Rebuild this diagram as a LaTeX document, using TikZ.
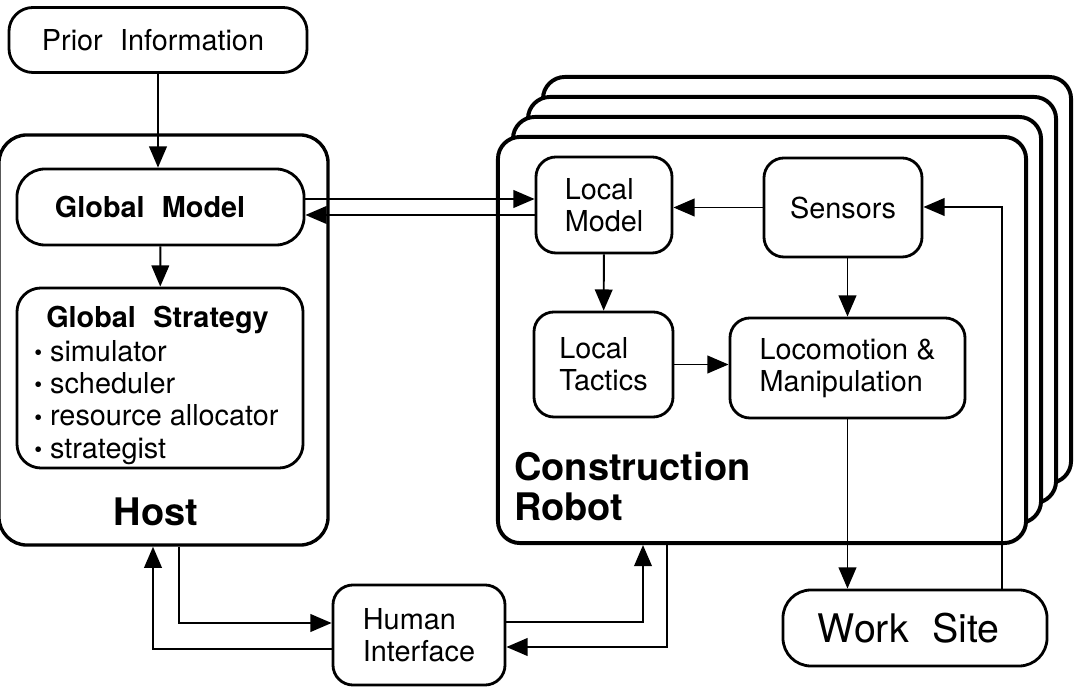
\documentclass[tikz,border=0pt]{standalone}
\usepackage{fontspec}
\setmainfont{TeX Gyre Heros}
\usetikzlibrary{arrows.meta, positioning, calc}
\newcommand{\gap}{\hspace{0.6em}}
\newcommand{\itemdot}{\raisebox{.05ex}{\fontsize{16}{16}\selectfont\textbullet}\ }

\begin{document}
\begin{tikzpicture}[
  x=0.025cm, y=0.025cm,
  font=\fontsize{20.5}{23}\selectfont,
  box/.style={draw, line width=2pt, rounded corners=0.5cm, align=left, inner sep=0pt},
  pill/.style={box, rounded corners=0.7cm, align=center},
  frame/.style={draw, line width=2.4pt, rounded corners=0.7cm, inner sep=0pt},
  robotbox/.style={frame, fill=white, rounded corners=0.55cm, line width=2.8pt, minimum width=13.2cm, minimum height=10.15cm},
  title/.style={font=\fontsize{27}{28.5}\selectfont\bfseries, align=left, inner sep=0pt},
  arrow/.style={-{Triangle[length=15pt, width=12.5pt]}, line width=1.4pt}
]
\useasboundingbox (0,0) rectangle (1074,-688);

\node[frame, minimum width=8.225cm, minimum height=10.25cm] (host) at (163.5,-340) {};
\foreach \k in {3,2,1}
  \node[robotbox] (robot\k) at ({762+15*\k},{-340+20*\k}) {};
\node[robotbox] (robot) at (762,-340) {};

\node[pill, align=left, text width=5.8cm, rounded corners=0.6cm, minimum width=7.45cm, minimum height=1.625cm] (prior) at (158,-40) {Prior\gap Information};
\node[pill, align=left, text width=5.275cm, font=\fontsize{20.5}{23}\selectfont\bfseries, minimum width=7.175cm, minimum height=1.9cm] (globalmodel) at (160.5,-207) {Global\gap Model};
\node[box, rounded corners=0.6cm, minimum width=7.15cm, minimum height=4.5cm] (globalstrat) at (160,-378) {};
\node[align=left, anchor=north west, inner sep=0pt] (strattext) at (34,-306)
  {\hspace*{0.3cm}\textbf{Global\gap Strategy}\\[0.8pt] \itemdot simulator\\ \itemdot scheduler\\ \itemdot resource allocator\\ \itemdot strategist};
\node[title, anchor=base] (hostlabel) at (156,-526) {Host};

\node[box, minimum width=3.4cm, minimum height=2.4cm] (localmodel) at (604,-205) {Local\\Model};
\node[box, align=center, minimum width=3.95cm, minimum height=2.475cm] (sensors) at (843,-207.5) {Sensors};
\node[box, minimum width=3.475cm, minimum height=2.625cm] (localtactics) at (603.5,-364.5) {Local\\Tactics};
\node[box, minimum width=5.875cm, minimum height=2.5cm] (locomotion) at (847.5,-368) {Locomotion \&\\Manipulation};
\node[title, anchor=north west] (robotlabel) at (514,-452) {Construction\\Robot};

\node[pill, align=left, text width=4.85cm, font=\fontsize{28}{30}\selectfont, minimum width=6.6cm, minimum height=1.9cm] (worksite) at (915,-628) {Work\gap Site};
\node[box, minimum width=4.3cm, minimum height=2.5cm] (humanif) at (419,-635) {Human\\Interface};

\draw[arrow] (prior) -- (prior |- globalmodel.north);
\draw[arrow] (globalmodel) -- (globalstrat);
\draw[arrow] ($(globalmodel.east)+(0,8)$) -- ($(globalmodel.east -| localmodel.west)+(0,8)$);
\draw[arrow] ($(globalmodel.east -| localmodel.west)+(0,-8)$) -- ($(globalmodel.east)+(0,-8)$);
\draw[arrow] (sensors.west) -- (sensors.west -| localmodel.east);
\draw[arrow] (localmodel) -- (localtactics);
\draw[arrow] (localtactics.east) -- (localtactics.east -| locomotion.west);
\draw[arrow] (locomotion.north |- sensors.south) -- (locomotion.north);
\draw[arrow] (locomotion.south) -- (locomotion.south |- worksite.north);

\coordinate (feedback) at (1002,-207);
\draw[arrow] (feedback |- worksite.north) -- (feedback) -- (feedback -| sensors.east);

\coordinate (hostdown) at (179,-623);
\coordinate (hostup) at (153,-649);
\coordinate (robotup) at (643,-622);
\coordinate (robotdown) at (667,-647);
\draw[arrow] (hostdown |- host.south) -- (hostdown) -- (hostdown -| humanif.west);
\draw[arrow] (hostup -| humanif.west) -- (hostup) -- (hostup |- host.south);
\draw[arrow] (robotup -| humanif.east) -- (robotup) -- (robotup |- robot.south);
\draw[arrow] (robotdown |- robot.south) -- (robotdown) -- (robotdown -| humanif.east);
\end{tikzpicture}
\end{document}
